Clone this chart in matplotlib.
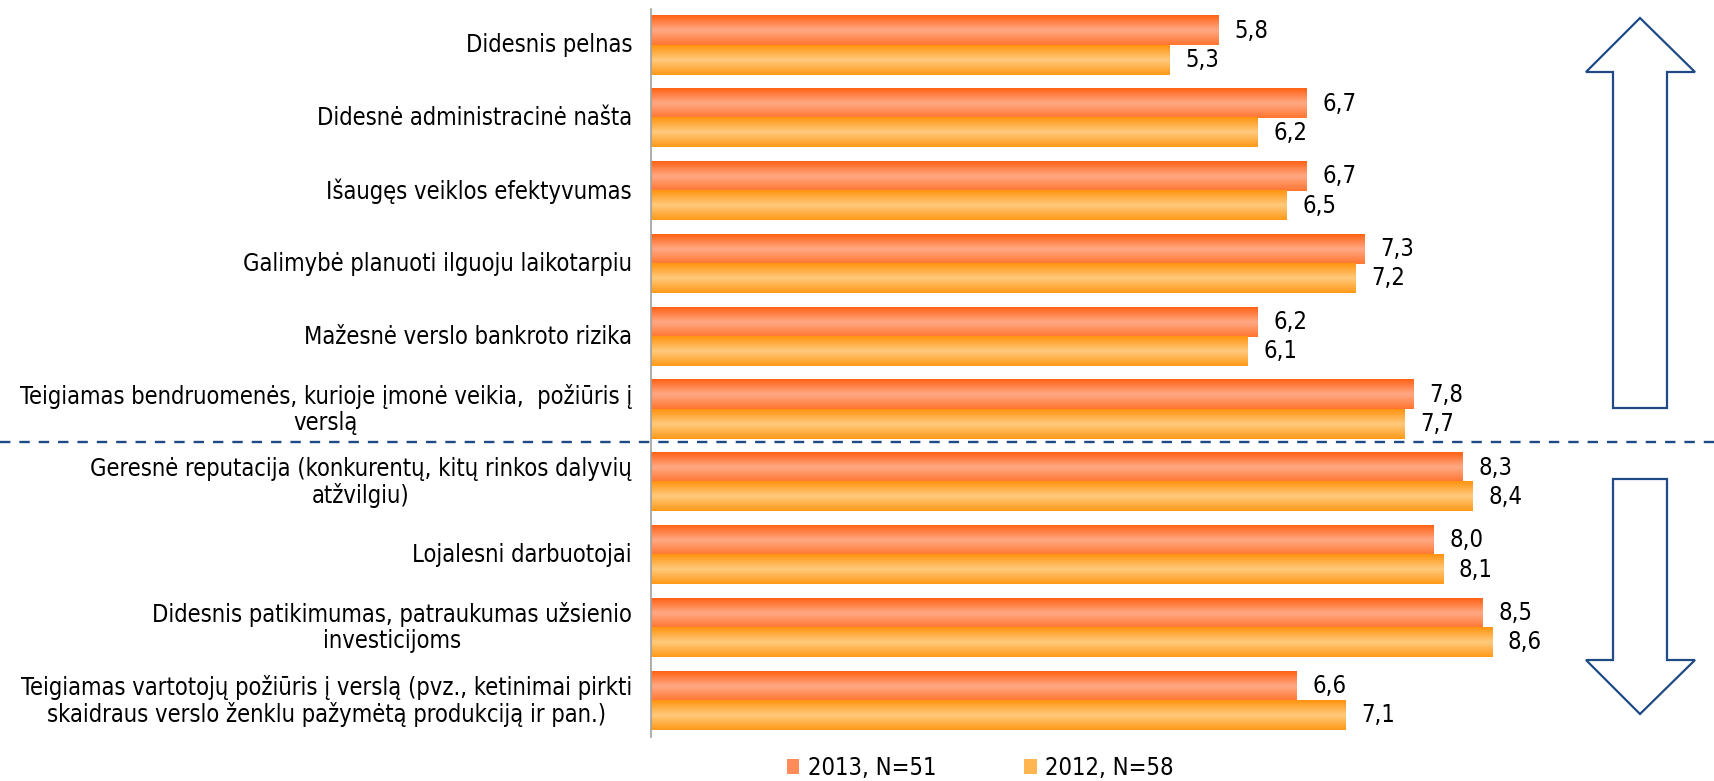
import numpy as np
import matplotlib
matplotlib.use('Agg')
import matplotlib.pyplot as plt
from matplotlib import font_manager
from matplotlib.patches import Patch, Polygon
from matplotlib.lines import Line2D

# data
categories = [
    'Didesnis pelnas',
    'Didesnė administracinė našta',
    'Išaugęs veiklos efektyvumas',
    'Galimybė planuoti ilguoju laikotarpiu',
    'Mažesnė verslo bankroto rizika',
    'Teigiamas bendruomenės, kurioje įmonė veikia,  požiūris į\nverslą',
    'Geresnė reputacija (konkurentų, kitų rinkos dalyvių\natžvilgiu)',
    'Lojalesni darbuotojai',
    'Didesnis patikimumas, patraukumas užsienio\ninvesticijoms',
    'Teigiamas vartotojų požiūris į verslą (pvz., ketinimai pirkti\nskaidraus verslo ženklu pažymėtą produkciją ir pan.)',
]
vals_2013 = [5.8, 6.7, 6.7, 7.3, 6.2, 7.8, 8.3, 8.0, 8.5, 6.6]
vals_2012 = [5.3, 6.2, 6.5, 7.2, 6.1, 7.7, 8.4, 8.1, 8.6, 7.1]
series_names = ['2013, N=51', '2012, N=58']


def pick_font():
    for f in font_manager.fontManager.ttflist:
        if f.name == 'DejaVu Sans' and str(f.stretch) == 'condensed':
            plt.rcParams['font.family'] = ['DejaVu Sans']
            plt.rcParams['font.stretch'] = 'condensed'
            return
    plt.rcParams['font.family'] = ['Roboto', 'DejaVu Sans']


def gradient(top, mid, bot, n=64):
    top, mid, bot = [np.array(matplotlib.colors.to_rgb(c)) for c in (top, mid, bot)]
    t = np.linspace(0, 1, n)[:, None]
    upper = top + (mid - top) * np.clip(t / 0.5, 0, 1)
    lower = mid + (bot - mid) * np.clip((t - 0.5) / 0.5, 0, 1)
    img = np.where(t < 0.5, upper, lower)
    return img[:, None, :]


pick_font()
FS = 17

grad_2013 = gradient('#FF6214', '#FFA985', '#FF7530')
grad_2012 = gradient('#FF9410', '#FFC97C', '#FF9A18')

W, H = 1715, 781
fig = plt.figure(figsize=(W / 100, H / 100), dpi=100)
ax = fig.add_axes([651.5 / W, 44 / H, 978 / W, 728 / H])

n = len(categories)
bar_h = 0.4
for i in range(n):
    yc = n - 1 - i
    v1, v2 = vals_2013[i], vals_2012[i]
    ax.imshow(grad_2013, extent=[0, v1, yc, yc + bar_h], aspect='auto',
              interpolation='bilinear', origin='upper')
    ax.imshow(grad_2012, extent=[0, v2, yc - bar_h, yc], aspect='auto',
              interpolation='bilinear', origin='upper')
    ax.annotate(('%.1f' % v1).replace('.', ','), xy=(v1, yc + bar_h / 2),
                xytext=(11, 0), textcoords='offset points', va='center',
                ha='left', fontsize=FS, color='black')
    ax.annotate(('%.1f' % v2).replace('.', ','), xy=(v2, yc - bar_h / 2),
                xytext=(11, 0), textcoords='offset points', va='center',
                ha='left', fontsize=FS, color='black')
    ax.annotate(categories[i], xy=(0, yc), xytext=(-14, 0),
                textcoords='offset points', va='center', ha='right',
                multialignment='center', fontsize=FS, linespacing=1.1)

ax.set_xlim(0, 10)
ax.set_ylim(-0.5, n - 0.5)
ax.set_xticks([])
ax.set_yticks([])
for s in ['top', 'right', 'bottom']:
    ax.spines[s].set_visible(False)
ax.spines['left'].set_color('#A0A0A0')
ax.spines['left'].set_linewidth(1.2)

# dashed separator across the figure
navy = '#1F4A85'
fig.add_artist(Line2D([0, 1], [1 - 442 / H, 1 - 442 / H], transform=fig.transFigure,
                      color=navy, lw=1.7, linestyle=(0, (4.4, 3.8))))


def fig_poly(pts):
    return [(x / W, 1 - y / H) for x, y in pts]


up_arrow = [(1640, 18), (1695, 72), (1667, 72), (1667, 408), (1613, 408),
            (1613, 72), (1586, 72)]
down_arrow = [(1613, 479), (1667, 479), (1667, 660), (1695, 660), (1640, 714),
              (1586, 660), (1613, 660)]
for pts in (up_arrow, down_arrow):
    fig.add_artist(Polygon(fig_poly(pts), closed=True, transform=fig.transFigure,
                           facecolor='white', edgecolor=navy, lw=1.6))

handles = [Patch(facecolor='#FF8A5A', edgecolor='none'),
           Patch(facecolor='#FFB550', edgecolor='none')]
fig.legend(handles, series_names, loc='center', bbox_to_anchor=(980 / W, 1 - 768 / H),
           ncol=2, frameon=False, fontsize=FS, handlelength=0.55, handleheight=0.6,
           handletextpad=0.35, columnspacing=3.7, borderpad=0, borderaxespad=0)

fig.savefig('out.png', dpi=100)
